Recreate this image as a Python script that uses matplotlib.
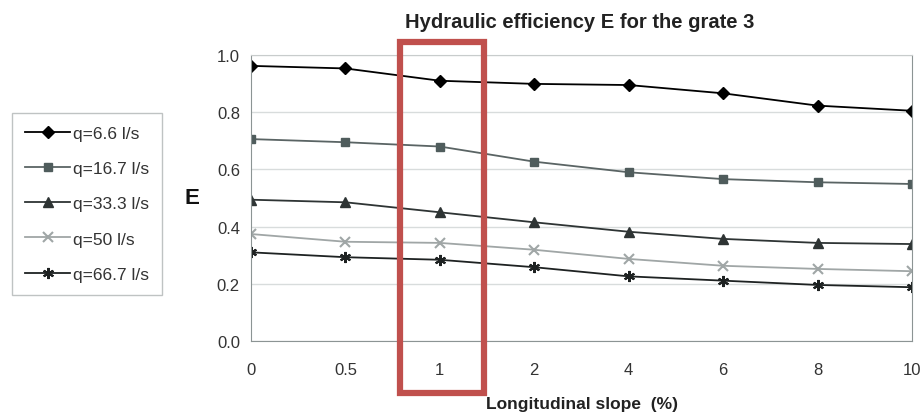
import numpy as np
import matplotlib
matplotlib.use("Agg")
from matplotlib import pyplot as plt
from matplotlib.patches import Rectangle

plt.rcParams['font.family'] = ['Liberation Sans', 'DejaVu Sans']

slopes = ["0", "0.5", "1", "2", "4", "6", "8", "10"]
e_q66 = [0.962, 0.953, 0.910, 0.899, 0.895, 0.866, 0.823, 0.805]
e_q167 = [0.706, 0.695, 0.680, 0.627, 0.590, 0.566, 0.555, 0.549]
e_q333 = [0.494, 0.485, 0.450, 0.415, 0.382, 0.357, 0.343, 0.339]
e_q50 = [0.374, 0.347, 0.343, 0.319, 0.287, 0.263, 0.252, 0.244]
e_q667 = [0.310, 0.293, 0.284, 0.258, 0.226, 0.211, 0.196, 0.188]
labels = ["q=6.6 l/s", "q=16.7 l/s", "q=33.3 l/s", "q=50 l/s", "q=66.7 l/s"]

fig = plt.figure(figsize=(9.24, 4.14), dpi=100)
ax = fig.add_axes([251/924, 1-342/414, 661/924, 286/414])

x = np.arange(len(slopes))
ax.plot(x, e_q66, "-", color="black", lw=1.3, marker="D", ms=6, label=labels[0])
ax.plot(x, e_q167, "-", color="#5a6464", lw=1.3, marker="s", ms=6,
        mfc="#4f5c5c", mec="#4f5c5c", label=labels[1])
ax.plot(x, e_q333, "-", color="#2e3434", lw=1.3, marker="^", ms=7,
        mfc="#2e3434", mec="#2e3434", label=labels[2])
ax.plot(x, e_q50, "-", color="#a0a6a6", lw=1.3, marker="x", ms=7, mew=1.5,
        label=labels[3])
ax.plot(x, e_q667, "-", color="#1e2222", lw=1.3, marker=(6, 2, 0), ms=8, mew=1.5,
        label=labels[4])

ax.set_xlim(0, 7)
ax.set_ylim(0, 1.0)
ax.set_xticks(x)
ax.set_xticklabels(slopes)
ax.set_yticks(np.arange(0, 1.01, 0.2))
ax.set_yticklabels(["%.1f" % v for v in np.arange(0, 1.01, 0.2)])
ax.tick_params(length=0, labelsize=12, colors="#333333", pad=15)
ax.tick_params(axis="y", pad=8)
ax.yaxis.grid(True, color="#d8dcdc", lw=1)
ax.set_axisbelow(True)
for s in ["left", "bottom", "right"]:
    ax.spines[s].set_color("#8c9494")
ax.spines["top"].set_color("#c8cccc")

ax.set_xlabel("Longitudinal slope  (%)", fontsize=12.5, fontweight="bold",
              color="#222222", labelpad=14)
ax.set_ylabel("E", fontsize=16, fontweight="bold", rotation=0, color="#111111",
              va="center", ha="center")
ax.yaxis.set_label_coords(-0.089, 0.503)
fig.text(580/924, 1-23/414, "Hydraulic efficiency E for the grate 3", fontsize=14.5,
         fontweight="bold", ha="center", va="center", color="#222222")

h, l = ax.get_legend_handles_labels()
leg = fig.legend(h, l, loc="upper left", bbox_to_anchor=(12/924, 1-114/414),
                 fontsize=12.5, frameon=True, fancybox=False, handlelength=2.6,
                 labelspacing=1.15, borderpad=0.75, handletextpad=0.15,
                 borderaxespad=0)
leg.get_frame().set_edgecolor("#b0b4b4")
leg.get_frame().set_linewidth(1)
for t in leg.get_texts():
    t.set_color("#333333")

fig.patches.append(Rectangle((400/924, 1-394/414), 84/924, 351/414,
                             transform=fig.transFigure, fill=False,
                             edgecolor="#c0504d", lw=4.5, zorder=10))

fig.savefig("out.png", dpi=100)
